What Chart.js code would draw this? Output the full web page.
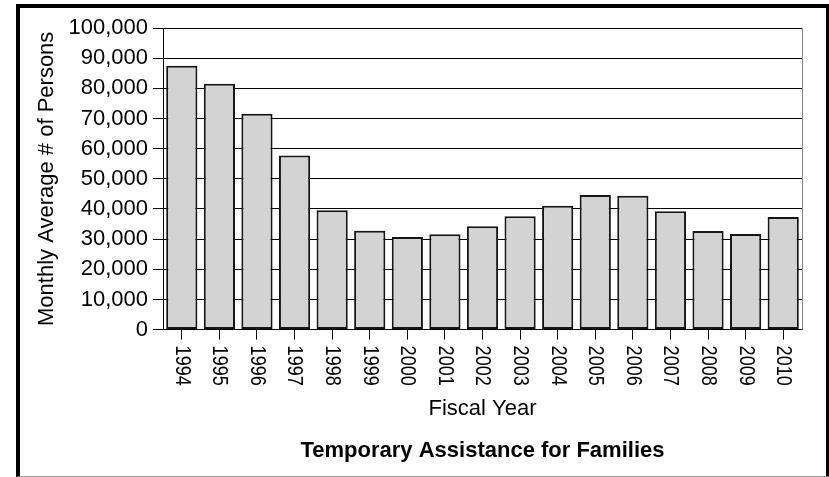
<!DOCTYPE html>
<html>
<head>
<meta charset="utf-8">
<script src="https://cdn.jsdelivr.net/npm/chart.js@4/dist/chart.umd.min.js"></script>
<style>
  html, body { margin: 0; padding: 0; background: #fff; }
  #frame {
    position: absolute; left: 16px; top: 4px;
    width: 806px; height: 468px;
    border: 4px solid #000; border-bottom: 1px solid #999;
  }
  canvas { display: block; }
</style>
</head>
<body>
<div id="frame"><canvas id="bar-chart" width="806" height="468"></canvas></div>
<script>
// ------------------------------------------------------
// @Data
// ------------------------------------------------------
const years = ['1994', '1995', '1996', '1997', '1998', '1999', '2000', '2001', '2002',
               '2003', '2004', '2005', '2006', '2007', '2008', '2009', '2010'];
const persons = [87500, 81500, 71600, 57700, 39600, 32800, 30700, 31600, 34300,
                 37600, 41100, 44600, 44400, 39200, 32700, 31700, 37300];
const yTickValues = [0, 10000, 20000, 30000, 40000, 50000, 60000, 70000, 80000, 90000, 100000];

const FONT = '"Liberation Sans", Arial, sans-serif';

// x labels read top-to-bottom (rotated clockwise), so they are drawn here
const xLabelPlugin = {
  id: 'xLabels',
  afterDraw(chart) {
    const ctx = chart.ctx;
    const xs = chart.scales.x;
    const area = chart.chartArea;
    ctx.save();
    ctx.fillStyle = '#000';
    ctx.font = '22px ' + FONT;
    ctx.textAlign = 'left';
    ctx.textBaseline = 'middle';
    years.forEach((yr, i) => {
      ctx.save();
      ctx.translate(xs.getPixelForTick(i), xs.top + 16);
      ctx.rotate(Math.PI / 2);
      ctx.scale(0.82, 1);
      ctx.fillText(yr, 0, 0);
      ctx.restore();
    });
    // right edge of plot area
    ctx.strokeStyle = '#888';
    ctx.lineWidth = 1;
    ctx.beginPath();
    ctx.moveTo(Math.round(area.right) + 0.5, area.top);
    ctx.lineTo(Math.round(area.right) + 0.5, area.bottom);
    ctx.stroke();
    ctx.restore();
  }
};

const barChartBox = document.getElementById('bar-chart');

if (barChartBox) {
  const barCtx = barChartBox.getContext('2d');

  new Chart(barCtx, {
    type: 'bar',
    data: {
      labels: years,
      datasets: [{
        label              : 'Monthly Average # of Persons',
        backgroundColor    : '#d3d3d3',
        borderColor        : '#151515',
        borderWidth        : 2,
        borderSkipped      : false,
        barPercentage      : 0.83,
        categoryPercentage : 1.0,
        data               : persons,
      }],
    },
    plugins: [xLabelPlugin],
    options: {
      responsive: false,
      animation: false,
      devicePixelRatio: 1,
      layout: {
        padding: { top: 20, right: 24, left: 0, bottom: 0 },
      },
      plugins: {
        legend: { display: false },
        tooltip: { enabled: false },
        title: {
          display: true,
          text: 'Temporary Assistance for Families',
          position: 'bottom',
          fullSize: false,
          color: '#000',
          font: { family: FONT, size: 22, weight: 'bold' },
          padding: { top: 0, bottom: 12 },
        },
      },
      scales: {
        x: {
          grid: {
            display: true,
            drawOnChartArea: false,
            drawTicks: true,
            tickLength: 10,
            offset: false,
            color: '#000',
          },
          border: { color: '#000', width: 1 },
          ticks: { display: false },
          title: {
            display: true,
            text: 'Fiscal Year',
            color: '#000',
            font: { family: FONT, size: 22 },
            padding: { top: 0, bottom: 15 },
          },
          afterFit(scale) { scale.height = 108; },
        },
        y: {
          min: 0,
          max: 100000,
          afterBuildTicks(scale) {
            scale.ticks = yTickValues.map(v => ({ value: v }));
          },
          ticks: {
            color: '#000',
            padding: 5,
            font: { family: FONT, size: 22 },
            callback: (v) => Number(v).toLocaleString('en-US'),
          },
          grid: { color: '#000', lineWidth: 1, tickLength: 10 },
          border: { color: '#000', width: 1 },
          title: {
            display: true,
            text: 'Monthly Average # of Persons',
            color: '#000',
            font: { family: FONT, size: 22 },
            padding: { top: 14, bottom: 0 },
          },
          afterFit(scale) { scale.width = 143; },
        },
      },
    },
  });
}
</script>
</body>
</html>
